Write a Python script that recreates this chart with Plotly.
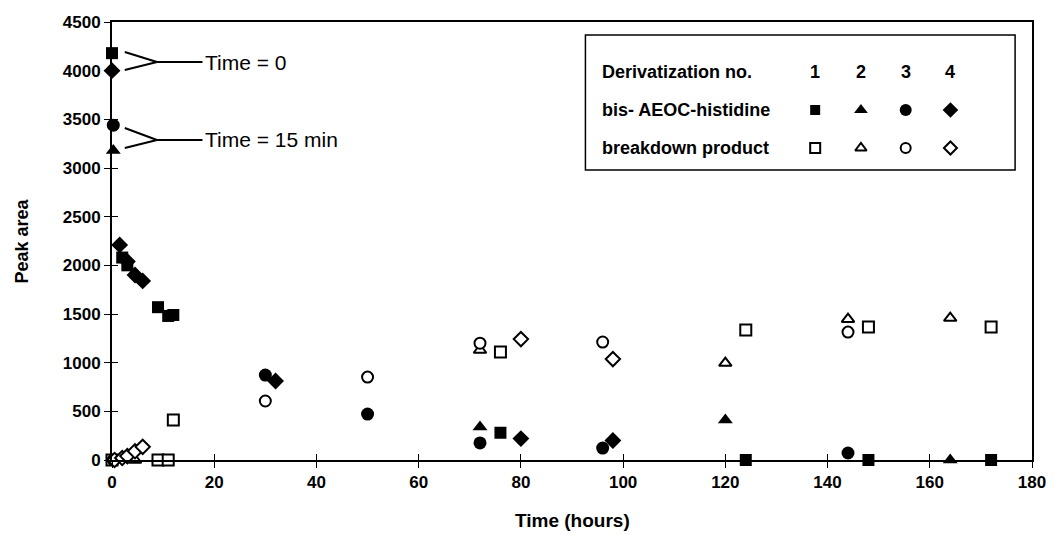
import plotly.graph_objects as go

# ---------------- data ----------------
x_ticks = [0, 20, 40, 60, 80, 100, 120, 140, 160, 180]
y_ticks = [0, 500, 1000, 1500, 2000, 2500, 3000, 3500, 4000, 4500]

# Derivatization 1 (squares)
bis1_t = [0, 2, 3, 9, 11, 12, 76, 124, 148, 172]
bis1_v = [4180, 2080, 2000, 1570, 1480, 1490, 280, 0, 0, 0]
br1_t = [0, 9, 11, 12, 76, 124, 148, 172]
br1_v = [0, 0, 0, 410, 1110, 1335, 1366, 1366]

# Derivatization 2 (triangles)
bis2_t = [0.25, 72, 120, 164]
bis2_v = [3180, 340, 410, 0]
br2_t = [4.5, 72, 120, 144, 164]
br2_v = [0, 1130, 996, 1447, 1458]

# Derivatization 3 (circles)
bis3_t = [0.25, 30, 50, 72, 96, 144]
bis3_v = [3440, 873, 472, 175, 123, 72]
br3_t = [0.25, 30, 50, 72, 96, 144]
br3_v = [0, 606, 852, 1200, 1212, 1314]

# Derivatization 4 (diamonds)
bis4_t = [0, 1.5, 3, 4.5, 6, 32, 80, 98]
bis4_v = [4000, 2210, 2040, 1900, 1840, 811, 220, 200]
br4_t = [0.5, 2, 3, 4.5, 6, 80, 98]
br4_v = [0, 20, 40, 90, 135, 1242, 1037]

legend_header = "Derivatization no."
legend_row1 = "bis- AEOC-histidine"
legend_row2 = "breakdown product"
legend_nums = ["1", "2", "3", "4"]
x_title = "Time (hours)"
y_title = "Peak area"

# ---------------- layout geometry ----------------
W, H = 1058, 535
L, R, T, B = 112, 21, 22, 75
PW, PH = W - L - R, H - T - B

def px_x(p):
    return (p - L) / PW

def px_y(p):
    return (H - B - p) / PH

FONT = "Liberation Sans, Arial, sans-serif"
BLACK = "black"

fig = go.Figure()

def add_series(t, v, symbol, size, filled):
    if filled:
        marker = dict(symbol=symbol, size=size, color=BLACK, line=dict(width=0))
    else:
        marker = dict(symbol=symbol, size=size - 1, color="white",
                      line=dict(color=BLACK, width=2))
    fig.add_trace(go.Scatter(x=t, y=v, mode="markers", marker=marker,
                             showlegend=False, cliponaxis=False,
                             xaxis="x", yaxis="y"))

add_series(br1_t, br1_v, "square", 12, False)
add_series(br2_t, br2_v, "triangle-up", 12, False)
add_series(br3_t, br3_v, "circle", 12, False)
add_series(br4_t, br4_v, "diamond", 12, False)
add_series(bis1_t, bis1_v, "square", 12, True)
add_series(bis2_t, bis2_v, "triangle-up", 13, True)
add_series(bis3_t, bis3_v, "circle", 13, True)
add_series(bis4_t, bis4_v, "diamond", 13, True)

# invisible trace so the tick-overlay axes are drawn
fig.add_trace(go.Scatter(x=[None], y=[None], xaxis="x2", yaxis="y2",
                         showlegend=False, hoverinfo="skip"))

# custom legend markers on a paper-like overlay axis
leg_cols_px = [819, 865, 910, 955]
head_px, row1_px, row2_px = 72, 110, 148
syms = ["square", "triangle-up", "circle", "diamond"]
for i, s in enumerate(syms):
    fig.add_trace(go.Scatter(
        x=[px_x(leg_cols_px[i])], y=[px_y(row1_px)], mode="markers",
        marker=dict(symbol=s, size=10 if s == "square" else 12, color=BLACK),
        xaxis="x3", yaxis="y3", showlegend=False, cliponaxis=False, hoverinfo="skip"))
    fig.add_trace(go.Scatter(
        x=[px_x(leg_cols_px[i])], y=[px_y(row2_px)], mode="markers",
        marker=dict(symbol=s, size=10, color="white", line=dict(color=BLACK, width=2)),
        xaxis="x3", yaxis="y3", showlegend=False, cliponaxis=False, hoverinfo="skip"))

tickfont = dict(family=FONT, size=17, color=BLACK, weight="bold")

fig.update_layout(
    width=W, height=H,
    margin=dict(l=L, r=R, t=T, b=B, pad=0),
    paper_bgcolor="white", plot_bgcolor="white",
    xaxis=dict(range=[0, 180], tickvals=x_ticks, ticktext=[str(v) for v in x_ticks],
               showgrid=False, zeroline=False, showline=True, linecolor=BLACK,
               linewidth=2, mirror=True, ticks="outside", ticklen=6, tickwidth=1,
               tickcolor=BLACK, tickfont=tickfont),
    yaxis=dict(range=[0, 4500], tickvals=y_ticks, ticktext=[str(v) for v in y_ticks],
               showgrid=False, zeroline=False, showline=True, linecolor=BLACK,
               linewidth=2, mirror=True, ticks="outside", ticklen=6, tickwidth=1,
               tickcolor=BLACK, tickfont=tickfont),
    xaxis2=dict(range=[0, 180], overlaying="x", anchor="y", side="bottom",
                tickvals=x_ticks, showticklabels=False, ticks="inside", ticklen=6,
                tickwidth=1, tickcolor=BLACK, showgrid=False, zeroline=False, showline=False),
    yaxis2=dict(range=[0, 4500], overlaying="y", anchor="x", side="left",
                tickvals=y_ticks, showticklabels=False, ticks="inside", ticklen=6,
                tickwidth=1, tickcolor=BLACK, showgrid=False, zeroline=False, showline=False),
    xaxis3=dict(range=[0, 1], overlaying="x", anchor="y3", visible=False),
    yaxis3=dict(range=[0, 1], overlaying="y", anchor="x3", visible=False),
)

# annotation arrows "Time = 0" and "Time = 15 min"
line_style = dict(color=BLACK, width=2)
callouts = [
    (4192, 4007, 4089, "Time = 0"),
    (3411, 3206, 3288, "Time = 15 min"),
]
for y_top, y_bot, y_mid, label in callouts:
    fig.add_shape(type="line", xref="x", yref="y", x0=2.5, y0=y_top, x1=8.8, y1=y_mid, line=line_style)
    fig.add_shape(type="line", xref="x", yref="y", x0=2.5, y0=y_bot, x1=8.8, y1=y_mid, line=line_style)
    fig.add_shape(type="line", xref="x", yref="y", x0=8.8, y0=y_mid, x1=17.7, y1=y_mid, line=line_style)
    fig.add_annotation(x=17.8, y=y_mid, xref="x", yref="y", text=label, showarrow=False,
                       xanchor="left", yanchor="middle",
                       font=dict(family=FONT, size=21, color=BLACK))

# legend box
fig.add_shape(type="rect", xref="paper", yref="paper",
              x0=px_x(588), x1=px_x(1020), y0=px_y(170), y1=px_y(35),
              line=dict(color=BLACK, width=1.5), fillcolor="rgba(0,0,0,0)", layer="below")

legfont = dict(family=FONT, size=18, color=BLACK, weight="bold")
for txt, ypx in [(legend_header, head_px), (legend_row1, row1_px), (legend_row2, row2_px)]:
    fig.add_annotation(x=px_x(603), y=px_y(ypx), xref="paper", yref="paper", text=txt,
                       showarrow=False, xanchor="left", yanchor="middle", font=legfont)
for i, n in enumerate(legend_nums):
    fig.add_annotation(x=px_x(leg_cols_px[i]), y=px_y(head_px), xref="paper", yref="paper", text=n,
                       showarrow=False, xanchor="center", yanchor="middle", font=legfont)

# axis titles
fig.add_annotation(x=0.5, y=px_y(520), xref="paper", yref="paper", text=x_title,
                   showarrow=False, xanchor="center", yanchor="middle",
                   font=dict(family=FONT, size=19, color=BLACK, weight="bold"))
fig.add_annotation(x=px_x(22), y=px_y(241), xref="paper", yref="paper", text=y_title,
                   textangle=-90, showarrow=False, xanchor="center", yanchor="middle",
                   font=dict(family=FONT, size=18, color=BLACK, weight="bold"))

fig.write_html("out.html")
